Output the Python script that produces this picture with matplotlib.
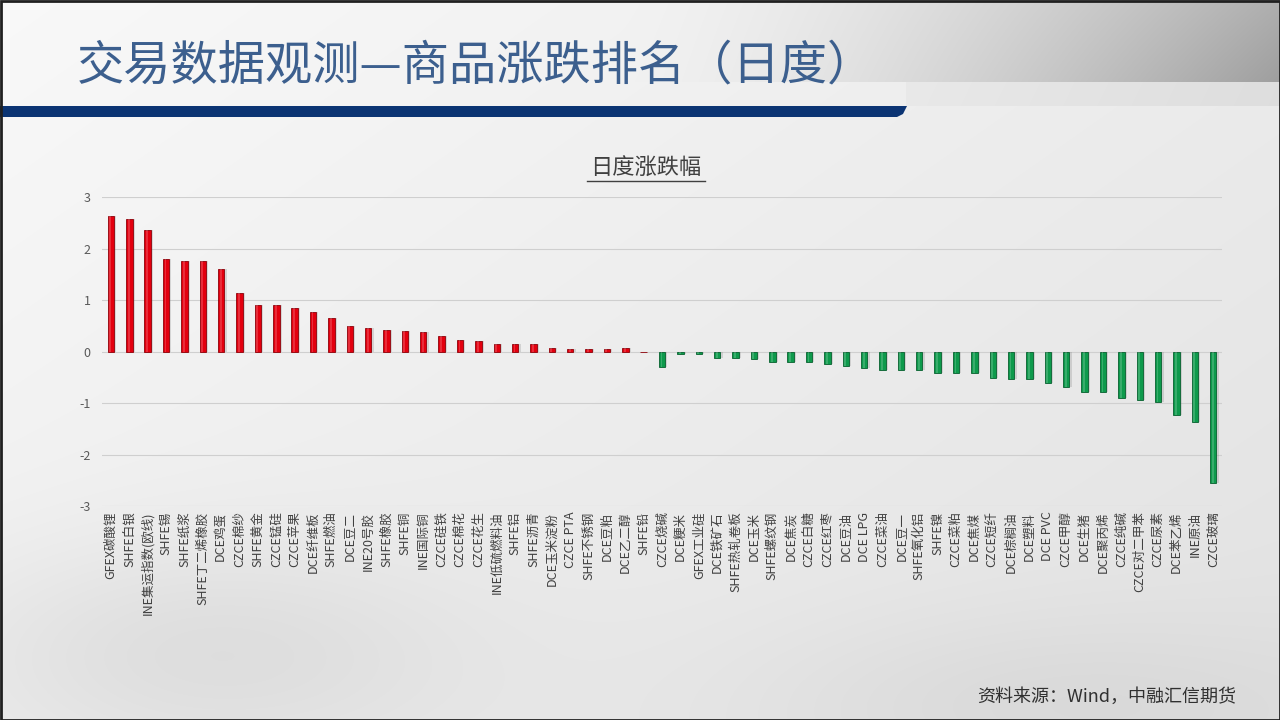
import numpy as np
import matplotlib
matplotlib.use("Agg")
import matplotlib.pyplot as plt
from matplotlib.patches import Polygon, Rectangle

plt.rcParams['font.family'] = ['Noto Sans CJK SC', 'DejaVu Sans']

# 品种及日度涨跌幅 (%)
names = [
    "GFEX碳酸锂", "SHFE白银", "INE集运指数(欧线)", "SHFE锡", "SHFE纸浆", "SHFE丁二烯橡胶",
    "DCE鸡蛋", "CZCE棉纱", "SHFE黄金", "CZCE锰硅", "CZCE苹果", "DCE纤维板", "SHFE燃油",
    "DCE豆二", "INE20号胶", "SHFE橡胶", "SHFE铜", "INE国际铜", "CZCE硅铁", "CZCE棉花",
    "CZCE花生", "INE低硫燃料油", "SHFE铝", "SHFE沥青", "DCE玉米淀粉", "CZCE PTA",
    "SHFE不锈钢", "DCE豆粕", "DCE乙二醇", "SHFE铅",
    "CZCE烧碱", "DCE粳米", "GFEX工业硅", "DCE铁矿石", "SHFE热轧卷板", "DCE玉米",
    "SHFE螺纹钢", "DCE焦炭", "CZCE白糖", "CZCE红枣", "DCE豆油", "DCE LPG", "CZCE菜油",
    "DCE豆一", "SHFE氧化铝", "SHFE镍", "CZCE菜粕", "DCE焦煤", "CZCE短纤", "DCE棕榈油",
    "DCE塑料", "DCE PVC", "CZCE甲醇", "DCE生猪", "DCE聚丙烯", "CZCE纯碱", "CZCE对二甲苯",
    "CZCE尿素", "DCE苯乙烯", "INE原油", "CZCE玻璃",
]
changes = [
    2.64, 2.58, 2.37, 1.80, 1.77, 1.77, 1.60, 1.15, 0.91, 0.91, 0.86, 0.77, 0.66,
    0.50, 0.47, 0.43, 0.41, 0.38, 0.30, 0.23, 0.20, 0.15, 0.15, 0.15, 0.08, 0.06,
    0.06, 0.06, 0.065, 0.0,
    -0.30, -0.04, -0.04, -0.12, -0.13, -0.15, -0.19, -0.19, -0.19, -0.23, -0.28,
    -0.32, -0.35, -0.35, -0.35, -0.42, -0.42, -0.42, -0.51, -0.53, -0.53, -0.60,
    -0.69, -0.78, -0.78, -0.89, -0.93, -0.98, -1.23, -1.36, -2.56,
]
yticks = [3, 2, 1, 0, -1, -2, -3]

fig = plt.figure(figsize=(12.8, 7.2), dpi=100)

# background layer in pixel coordinates
bg = fig.add_axes([0, 0, 1, 1])
bg.set_xlim(0, 1280)
bg.set_ylim(720, 0)
bg.axis('off')

H, W = 720, 1280
yy, xx = np.mgrid[0:H, 0:W].astype(float)
shade = 0.975 - 0.05 * (xx / W) - 0.04 * (yy / H)
# darker sweep at top right
t = np.clip((xx - 620) / 660, 0, 1)
shade -= 0.30 * t ** 1.6 * (yy < 82) * (0.8 + 0.2 * yy / 82)
shade -= 0.05 * t * (yy >= 82) * (yy < 106) * (xx > 905)
# soft grey haze bottom-left (skyline) and bottom-right
shade -= 0.06 * np.exp(-(((xx - 200) / 260) ** 2 + ((yy - 650) / 110) ** 2))
shade -= 0.04 * np.exp(-(((xx - 1050) / 300) ** 2 + ((yy - 700) / 90) ** 2))
shade = np.clip(shade, 0, 1)
bg.imshow(np.dstack([shade] * 3), extent=(0, 1280, 720, 0), aspect='auto', zorder=0)

# navy band under the title
band = Polygon([(0, 106), (907, 106), (903, 114), (897, 117), (0, 117)],
               closed=True, facecolor='#0B3473', edgecolor='none', zorder=2)
bg.add_patch(band)
bg.add_patch(Rectangle((0.5, 0.5), 1279, 719, fill=False, edgecolor='#202020', linewidth=2, zorder=3))

bg.text(77, 66, "交易数据观测—商品涨跌排名（日度）", fontsize=34, color='#3C5F8E',
        ha='left', va='center', zorder=3)
bg.text(646, 168, "日度涨跌幅", fontsize=16, color='#404040', ha='center', va='center', zorder=3)
bg.plot([587, 705], [181, 181], color='#404040', linewidth=1.0, zorder=3)
bg.text(1236, 697, "资料来源：Wind，中融汇信期货", fontsize=13, color='#303030',
        ha='right', va='center', zorder=3)

# chart
ax = fig.add_axes([0.0795, 0.2972, 0.8755, 0.4285])
ax.patch.set_alpha(0)
x = np.arange(len(names))
vals = np.array(changes)
colors = np.where(vals >= 0, '#E3000F', '#0E9A4C')
edges = np.where(vals >= 0, '#8E0008', '#06602E')

ax.bar(x + 0.12, vals, width=0.35, color='#7F7F7F', alpha=0.25, zorder=2)
ax.bar(x, vals, width=0.35, color=colors, edgecolor=edges, linewidth=0.6, zorder=3)
ax.bar(x - 0.03, vals, width=0.1, color='white', alpha=0.18, zorder=4)

ax.set_xlim(-0.5, len(names) - 0.5)
ax.set_ylim(-3, 3)
ax.set_yticks(yticks)
ax.set_yticklabels([str(v) for v in yticks], fontsize=9, color='#595959')
ax.grid(axis='y', color='#CFCFCF', linewidth=0.8, zorder=1)
ax.set_axisbelow(True)
for s in ax.spines.values():
    s.set_visible(False)
ax.tick_params(axis='y', length=0, pad=8)
ax.tick_params(axis='x', length=0, pad=4)
ax.set_xticks(x)
ax.set_xticklabels(names, rotation=90, fontsize=9, color='#404040', ha='center', va='top')

fig.savefig("out.png", dpi=100)
